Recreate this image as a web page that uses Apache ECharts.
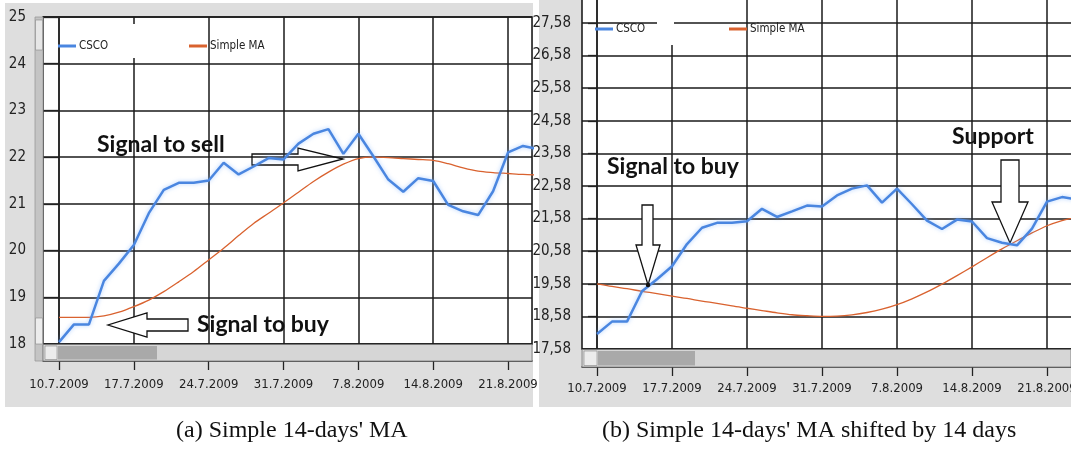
<!DOCTYPE html>
<html><head><meta charset="utf-8">
<script src="https://cdn.jsdelivr.net/npm/echarts@6/dist/echarts.min.js"></script>
<style>html,body{margin:0;padding:0;background:#fff}#c{width:1071px;height:452px}</style>
</head><body><div id="c"></div>
<script>
// ---- data ----
const dates = ['10.7.2009','13.7.2009','14.7.2009','15.7.2009','16.7.2009','17.7.2009','20.7.2009','21.7.2009','22.7.2009','23.7.2009','24.7.2009','27.7.2009','28.7.2009','29.7.2009','30.7.2009','31.7.2009','3.8.2009','4.8.2009','5.8.2009','6.8.2009','7.8.2009','10.8.2009','11.8.2009','12.8.2009','13.8.2009','14.8.2009','17.8.2009','18.8.2009','19.8.2009','20.8.2009','21.8.2009','24.8.2009','25.8.2009'];
const csco = [18.04,18.42,18.42,19.35,19.72,20.12,20.8,21.3,21.45,21.45,21.5,21.88,21.63,21.8,21.98,21.95,22.29,22.5,22.6,22.07,22.5,22.02,21.52,21.26,21.55,21.49,20.98,20.84,20.76,21.27,22.1,22.24,22.17];
const smaA = [18.57,18.57,18.57,18.6,18.68,18.8,18.94,19.12,19.33,19.55,19.8,20.05,20.32,20.58,20.8,21.02,21.25,21.48,21.68,21.85,21.97,22.0,21.99,21.97,21.95,21.93,21.86,21.77,21.7,21.67,21.65,21.63,21.62];
const smaB = [19.58,19.5,19.43,19.35,19.28,19.2,19.13,19.05,18.98,18.9,18.83,18.76,18.69,18.63,18.6,18.58,18.59,18.63,18.7,18.8,18.94,19.12,19.33,19.57,19.83,20.1,20.38,20.65,20.9,21.14,21.36,21.52,21.63];
const dateTicks = [0,5,10,15,20,25,30];
const yTicksA = [18,19,20,21,22,23,24,25];
const yTicksB = [17.58,18.58,19.58,20.58,21.58,22.58,23.58,24.58,25.58,26.58,27.58];
const seriesNames = ['CSCO','Simple MA'];
const captions = ["(a) Simple 14-days' MA", "(b) Simple 14-days' MA shifted by 14 days"];
const notes = ['Signal to sell','Signal to buy','Signal to buy','Support'];

// ---- styles ----
const narrow = "'Liberation Sans Narrow','DejaVu Sans Condensed','Arial Narrow',sans-serif";
const gridLine = {show:true, lineStyle:{color:'#1a1a1a', width:1.5}};
const blue = '#4a86e0', orange = '#d9622f';
const blueStyle = {color:blue, width:2.5, shadowColor:'rgba(110,170,255,0.55)', shadowBlur:4};
const orangeStyle = {color:orange, width:1.3};
const noteFont = {fontFamily:'Lato', fontWeight:'bold', fontSize:23, fill:'#111', verticalAlign:'middle'};
const capFont = {fontFamily:"'Liberation Serif',serif", fontSize:24, fontWeight:'normal', color:'#111'};

function xAxis(g, offset, margin, min, max){
  return {gridIndex:g, type:'value', min:min, max:max, offset:offset,
    axisLine:{show:true, onZero:false, lineStyle:{color:'#222', width:1.5}},
    axisTick:{show:true, customValues:dateTicks, length:9, lineStyle:{color:'#222', width:1.3}},
    axisLabel:{customValues:dateTicks, formatter:v=>dates[Math.round(v)], fontFamily:narrow, fontSize:13, color:'#222', margin:margin},
    splitLine:gridLine};
}

const chart = echarts.init(document.getElementById('c'), null, {renderer:'canvas'});
const legendBase = {icon:'rect', itemWidth:18, itemHeight:3, selectedMode:false, padding:0,
  textStyle:{fontFamily:narrow, fontSize:11.5, color:'#222', padding:[0,0,0,-2]}};

chart.setOption({
  animation:false,
  backgroundColor:'#fff',
  title:[
    {text:captions[0], left:176, top:419, padding:0, textStyle:capFont},
    {text:captions[1], left:602, top:419, padding:0, textStyle:capFont}
  ],
  legend:[
    Object.assign({data:[seriesNames[0]], left:58, top:40}, legendBase),
    Object.assign({data:[seriesNames[1]], left:189, top:40}, legendBase),
    Object.assign({data:[seriesNames[0]], left:595, top:23}, legendBase),
    Object.assign({data:[seriesNames[1]], left:729, top:23}, legendBase)
  ],
  grid:[
    {left:43, right:539, top:17, bottom:108, outerBoundsMode:'none', containLabel:false, show:true, backgroundColor:'#fff', borderColor:'#111', borderWidth:1.5},
    {left:582, right:-3, top:-2, bottom:103, outerBoundsMode:'none', containLabel:false, show:true, backgroundColor:'#fff', borderColor:'#111', borderWidth:1.5}
  ],
  xAxis:[xAxis(0,17,17,-1.07,31.6), xAxis(1,18,15,-1.0,31.8)],
  yAxis:[
    {gridIndex:0, type:'value', min:18, max:25, interval:1,
     axisLine:{show:true, lineStyle:{color:'#222', width:1.5}},
     axisTick:{show:true, length:15, lineStyle:{color:'#222', width:1.3}},
     axisLabel:{fontFamily:narrow, fontSize:15, color:'#222', margin:17},
     splitLine:gridLine},
    {gridIndex:1, type:'value', min:17.58, max:28.347,
     axisLine:{show:true, lineStyle:{color:'#222', width:1.5}},
     axisTick:{show:true, customValues:yTicksB, length:9, lineStyle:{color:'#222', width:1.3}},
     axisLabel:{customValues:yTicksB, formatter:v=>v.toFixed(2).replace('.',','), fontFamily:narrow, fontSize:15, color:'#222', margin:11},
     splitLine:gridLine}
  ],
  series:[
    {name:seriesNames[1], type:'line', xAxisIndex:0, yAxisIndex:0, data:smaA.map((v,i)=>[i,v]), showSymbol:false, smooth:0.3, lineStyle:orangeStyle, itemStyle:{color:orange}, z:2},
    {name:seriesNames[0], type:'line', xAxisIndex:0, yAxisIndex:0, data:csco.map((v,i)=>[i,v]), showSymbol:false, lineStyle:blueStyle, itemStyle:{color:blue}, z:3},
    {name:seriesNames[1], type:'line', xAxisIndex:1, yAxisIndex:1, data:smaB.map((v,i)=>[i,v]), showSymbol:false, smooth:0.3, lineStyle:orangeStyle, itemStyle:{color:orange}, z:2},
    {name:seriesNames[0], type:'line', xAxisIndex:1, yAxisIndex:1, data:csco.map((v,i)=>[i,v]), showSymbol:false, lineStyle:blueStyle, itemStyle:{color:blue}, z:3}
  ],
  graphic:[
    // screenshot backgrounds
    {type:'rect', z:-10, shape:{x:5, y:3, width:528, height:404}, style:{fill:'#dedede'}},
    {type:'rect', z:-10, shape:{x:539, y:0, width:532, height:407}, style:{fill:'#dedede'}},
    // panel a vertical scrollbar
    {type:'rect', z:10, shape:{x:35, y:17, width:8, height:344}, style:{fill:'#c4c4c4', stroke:'#9a9a9a', lineWidth:0.8}},
    {type:'rect', z:11, shape:{x:35.5, y:20, width:7, height:30}, style:{fill:'#e6e6e6', stroke:'#888', lineWidth:0.6}},
    {type:'rect', z:11, shape:{x:35.5, y:318, width:7, height:26}, style:{fill:'#ececec', stroke:'#888', lineWidth:0.6}},
    // panel a horizontal scrollbar
    {type:'rect', z:10, shape:{x:43, y:344.5, width:489, height:16.5}, style:{fill:'#d6d6d6', stroke:'#777', lineWidth:0.8}},
    {type:'rect', z:11, shape:{x:58, y:346, width:99, height:13.5}, style:{fill:'#a9a9a9'}},
    {type:'rect', z:11, shape:{x:45, y:346, width:12, height:13.5}, style:{fill:'#ececec', stroke:'#888', lineWidth:0.6}},
    // panel b horizontal scrollbar
    {type:'rect', z:10, shape:{x:582, y:349.5, width:489, height:17.5}, style:{fill:'#d6d6d6', stroke:'#777', lineWidth:0.8}},
    {type:'rect', z:11, shape:{x:598, y:351, width:97, height:14.5}, style:{fill:'#a9a9a9'}},
    {type:'rect', z:11, shape:{x:584, y:351, width:13, height:14.5}, style:{fill:'#ececec', stroke:'#888', lineWidth:0.6}},
    // legend white patches
    {type:'rect', z:1, shape:{x:128, y:24, width:10, height:34}, style:{fill:'#fff'}},
    {type:'rect', z:1, shape:{x:657, y:0, width:17, height:45}, style:{fill:'#fff'}},
    // arrows
    {type:'polygon', z:1, shape:{points:[[252,154],[298,154],[298,148],[343,159],[298,171],[298,165],[252,165]]}, style:{fill:'rgba(255,255,255,0)', stroke:'#111', lineWidth:1.3}},
    {type:'polygon', z:1, shape:{points:[[188,319],[147,319],[147,313],[108,325],[147,337],[147,331],[188,331]]}, style:{fill:'#fff', stroke:'#111', lineWidth:1.3}},
    {type:'polygon', z:1, shape:{points:[[642,205],[653,205],[653,245],[660,245],[648,285],[636,245],[642,245]]}, style:{fill:'#fff', stroke:'#111', lineWidth:1.3}},
    {type:'polygon', z:1, shape:{points:[[1001,160],[1019,160],[1019,202],[1028,202],[1010,243],[992,202],[1001,202]]}, style:{fill:'#fff', stroke:'#111', lineWidth:1.3}},
    {type:'circle', z:5, shape:{cx:648, cy:285, r:2.2}, style:{fill:'#111'}},
    // annotation texts
    {type:'text', z:6, x:97, y:145, style:Object.assign({text:notes[0]}, noteFont)},
    {type:'text', z:6, x:197, y:325, style:Object.assign({text:notes[1]}, noteFont)},
    {type:'text', z:6, x:607, y:167, style:Object.assign({text:notes[2]}, noteFont)},
    {type:'text', z:6, x:952, y:137, style:Object.assign({text:notes[3]}, noteFont)}
  ]
});
</script></body></html>
